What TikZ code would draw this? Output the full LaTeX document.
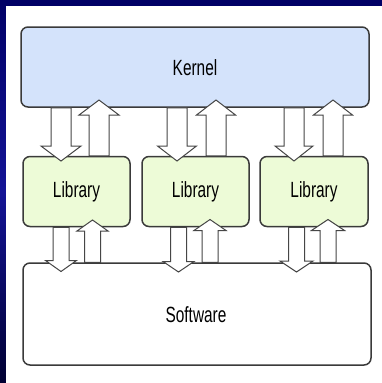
\documentclass[tikz,border=0pt]{standalone}
\usepackage{fontspec}
\setmainfont{Liberation Sans}
\usetikzlibrary{calc}
\definecolor{navy}{RGB}{0,0,102}
\definecolor{navymid}{RGB}{20,20,150}
\definecolor{navydark}{RGB}{0,0,50}
\definecolor{kernelfill}{RGB}{212,227,251}
\definecolor{libfill}{RGB}{237,251,215}
\definecolor{boxline}{RGB}{58,58,58}
\definecolor{arrowline}{RGB}{70,70,70}
\tikzset{
  box/.style={draw=boxline, line width=1.5pt, rounded corners=7pt, inner sep=0pt},
  blockarrow/.style={draw=arrowline, line width=1pt, fill=white, line join=miter},
  boxtext/.style={font=\fontsize{22}{24}\selectfont, inner sep=0pt}
}
\newcommand\stretchtext[1]{\scalebox{0.7}[1]{#1}}
% #1 x, #2 start anchor, #3 head-base y, #4 tip y, #5 shaft half width, #6 head half width
\newcommand\fatarrow[6]{%
  \draw[blockarrow] (#1-#5,0 |- #2) -- (#1-#5,#3) -- (#1-#6,#3) -- (#1,#4)
    -- (#1+#6,#3) -- (#1+#5,#3) -- (#1+#5,0 |- #2) -- cycle;}
\begin{document}
\begin{tikzpicture}[x=1pt, y=-1pt]
  % background
  \useasboundingbox (0,0) rectangle (382,383);
  \fill[navy] (0,0) rectangle (382,6);
  \shade[top color=navy, bottom color=navydark, middle color=navymid] (0,0) rectangle (6,383);
  \fill[white] (6,6) rectangle (382,383);

  % boxes
  \node[box, fill=kernelfill, minimum width=348pt, minimum height=80pt] (kernel) at (195,67) {};
  \node[boxtext] (kerneltext) at (195,67.5) {\stretchtext{Kernel}};
  \node[box, fill=libfill, minimum width=107pt, minimum height=70pt] (lib1) at (76.5,191.5) {};
  \node[box, fill=libfill, minimum width=107pt, minimum height=70pt] (lib2) at (195.5,191.5) {};
  \node[box, fill=libfill, minimum width=108pt, minimum height=70pt] (lib3) at (314,191.5) {};
  \node[boxtext] (lib1text) at (76.5,192) {\stretchtext{Library}};
  \node[boxtext] (lib2text) at (195.5,192) {\stretchtext{Library}};
  \node[boxtext] (lib3text) at (314,192) {\stretchtext{Library}};
  \node[box, fill=white, minimum width=348pt, minimum height=102pt] (software) at (197,314) {};
  \node[boxtext] (softwaretext) at (196,315) {\stretchtext{Software}};

  % kernel <-> libraries
  \fatarrow{61}{kernel.south}{146}{161}{10}{20}
  \fatarrow{99}{lib1.north}{115}{100}{10}{20}
  \fatarrow{177}{kernel.south}{146}{161}{10}{19.5}
  \fatarrow{216}{lib2.north}{115}{100}{10}{19.5}
  \fatarrow{294}{kernel.south}{146}{161}{10}{19}
  \fatarrow{333}{lib3.north}{115}{100}{10}{19.5}

  % libraries <-> software
  \fatarrow{61}{lib1.south}{260.5}{271.5}{8}{15.5}
  \fatarrow{92.5}{software.north}{231}{220}{8}{15.5}
  \fatarrow{178.5}{lib2.south}{261.5}{272}{8}{15.5}
  \fatarrow{210}{software.north}{230.5}{219.5}{8}{16}
  \fatarrow{296.5}{lib3.south}{261}{272}{8}{16.5}
  \fatarrow{328}{software.north}{230.5}{219.5}{8}{16.5}
\end{tikzpicture}
\end{document}
